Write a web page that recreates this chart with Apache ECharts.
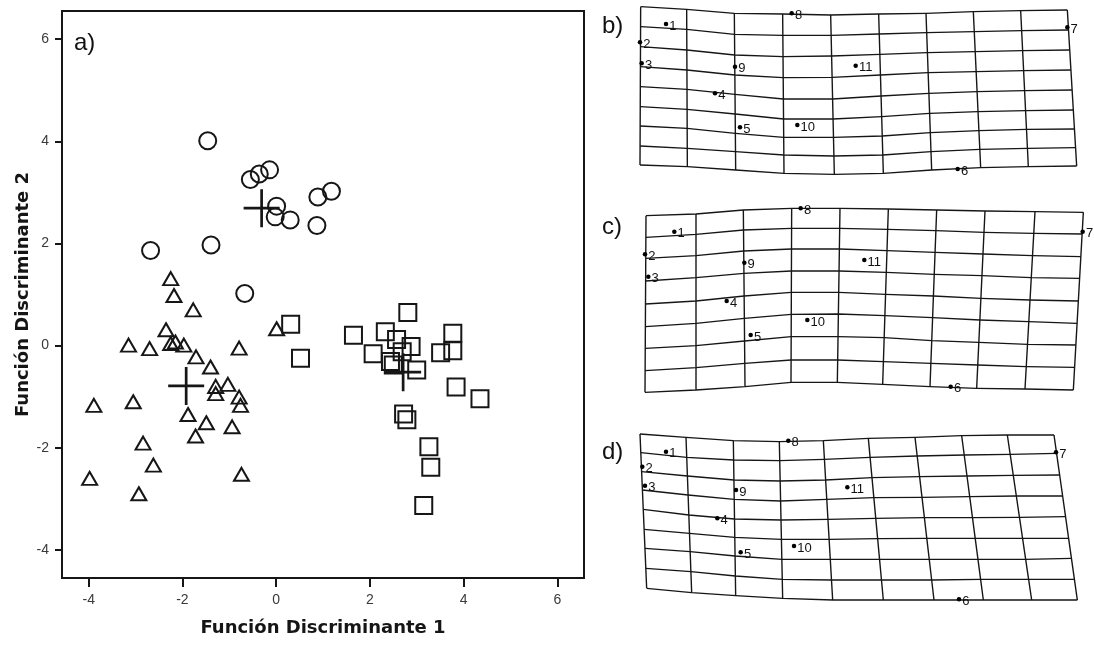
<!DOCTYPE html>
<html>
<head>
<meta charset="utf-8">
<script src="https://cdn.jsdelivr.net/npm/echarts@6/dist/echarts.min.js"></script>
<style>
html,body{margin:0;padding:0;background:#fff;}
#c{width:1094px;height:646px;}
</style>
</head>
<body>
<div id="c"></div>
<script>
// ---------- Panel a) : discriminant scores ----------
const xTicks = [-4, -2, 0, 2, 4, 6];
const yTicks = [-4, -2, 0, 2, 4, 6];
const xTitle = 'Función Discriminante 1';
const yTitle = 'Función Discriminante 2';

const circles = [
  [-1.46, 4.01], [-0.55, 3.25], [-0.36, 3.36], [-0.14, 3.44], [0.01, 2.73],
  [-0.02, 2.52], [0.30, 2.46], [0.89, 2.91], [1.18, 3.02], [0.87, 2.35],
  [-2.68, 1.86], [-1.39, 1.97], [-0.67, 1.02]
];
const triangles = [
  [-2.25, 1.31], [-2.18, 0.98], [-1.77, 0.70], [-2.35, 0.31], [-3.15, 0.01],
  [-2.70, -0.06], [-2.25, 0.04], [-2.15, 0.07], [-1.97, 0.01], [-1.71, -0.22],
  [-1.40, -0.42], [-0.79, -0.05], [0.01, 0.33], [-1.29, -0.80], [-1.03, -0.76],
  [-1.29, -0.94], [-0.79, -1.01], [-0.76, -1.17], [-3.89, -1.17], [-3.05, -1.10],
  [-1.88, -1.35], [-1.49, -1.51], [-0.94, -1.59], [-1.72, -1.77], [-2.84, -1.91],
  [-2.62, -2.34], [-3.98, -2.60], [-0.74, -2.52], [-2.93, -2.90]
];
const squares = [
  [0.31, 0.42], [0.52, -0.25], [1.65, 0.20], [2.33, 0.27], [2.81, 0.65],
  [2.57, 0.12], [2.88, -0.02], [2.07, -0.16], [2.69, -0.12], [2.44, -0.31],
  [2.50, -0.38], [3.00, -0.48], [3.77, 0.24], [3.77, -0.10], [3.51, -0.14],
  [3.84, -0.81], [4.35, -1.04], [2.72, -1.34], [2.79, -1.45], [3.26, -1.98],
  [3.30, -2.38], [3.15, -3.13]
];
const centroids = [[-0.31, 2.69], [-1.92, -0.79], [2.71, -0.52]];

// ---------- Panels b), c), d) : deformation grids (shape units) ----------
const landmarkNames = ['1','2','3','4','5','6','7','8','9','10','11'];

const bVTop = [152, 290, 433, 578, 722, 866, 1008, 1150, 1292, 1432];
const bVBot = [150, 292, 437, 582, 733, 880, 1025, 1172, 1315, 1460];
const bRows = [
  [20, 28, 40, 42, 45, 42, 40, 35, 32, 30],
  [80, 88, 103, 106, 106, 102, 98, 95, 92, 90],
  [140, 150, 165, 170, 168, 163, 158, 155, 152, 150],
  [200, 210, 225, 233, 232, 225, 218, 215, 212, 210],
  [260, 268, 283, 297, 297, 288, 280, 275, 272, 270],
  [320, 328, 342, 357, 357, 350, 340, 335, 332, 330],
  [378, 385, 400, 412, 412, 408, 398, 392, 388, 387],
  [438, 445, 455, 465, 468, 465, 455, 448, 445, 443],
  [495, 500, 510, 520, 523, 520, 510, 503, 500, 498]
];
const bLandmarks = [[228,72],[150,127],[155,190],[375,280],[450,382],[1103,507],[1432,82],[605,40],[435,200],[622,375],[797,197]];

const cVTop = [168, 318, 460, 605, 750, 895, 1040, 1185, 1335, 1480];
const cVBot = [165, 318, 465, 603, 742, 878, 1020, 1160, 1305, 1450];
const cRows = [
  [62, 57, 45, 40, 40, 42, 45, 48, 50, 52],
  [127, 118, 105, 100, 100, 103, 107, 112, 115, 117],
  [190, 182, 168, 162, 162, 167, 172, 177, 182, 185],
  [258, 248, 235, 228, 228, 232, 238, 242, 248, 250],
  [327, 318, 303, 292, 292, 298, 303, 310, 315, 318],
  [395, 385, 370, 358, 357, 362, 368, 375, 380, 385],
  [460, 452, 438, 425, 425, 428, 437, 442, 448, 450],
  [527, 518, 505, 495, 495, 500, 505, 510, 515, 517],
  [592, 585, 575, 562, 562, 568, 575, 580, 582, 585]
];
const cLandmarks = [[253,110],[165,178],[175,245],[410,318],[482,420],[1082,575],[1478,110],[632,40],[463,203],[652,375],[823,195]];

const dVTop = [150, 288, 430, 568, 700, 835, 975, 1115, 1252, 1392];
const dVBot = [170, 305, 437, 578, 728, 880, 1032, 1180, 1325, 1462];
const dRows = [
  [42, 52, 62, 65, 62, 55, 52, 47, 45, 45],
  [98, 112, 120, 122, 118, 112, 108, 105, 103, 100],
  [155, 168, 180, 183, 180, 173, 170, 168, 166, 165],
  [210, 225, 238, 243, 238, 233, 232, 230, 228, 228],
  [268, 285, 297, 300, 298, 295, 293, 293, 292, 290],
  [328, 340, 352, 358, 358, 356, 355, 355, 355, 355],
  [385, 395, 408, 418, 418, 418, 418, 418, 418, 415],
  [445, 455, 468, 478, 480, 480, 480, 478, 478, 478],
  [505, 518, 527, 535, 540, 540, 540, 540, 540, 540]
];
const dLandmarks = [[228,95],[157,140],[165,197],[382,295],[452,397],[1107,538],[1398,97],[595,62],[438,210],[612,378],[772,202]];

// ---------- build ----------
const INK = '#161616';

// node position: point on straight vertical line i at height y
function gridLines(vTop, vBot, rows) {
  const last = rows.length - 1;
  const node = (i, j) => {
    const y = rows[j][i];
    const t = (y - rows[0][i]) / (rows[last][i] - rows[0][i]);
    return [vTop[i] + t * (vBot[i] - vTop[i]), y];
  };
  const lines = [];
  for (let j = 0; j < rows.length; j++) {
    const coords = [];
    for (let i = 0; i < vTop.length; i++) coords.push(node(i, j));
    lines.push({ coords });
  }
  for (let i = 0; i < vTop.length; i++) {
    const coords = [];
    for (let j = 0; j < rows.length; j++) coords.push(node(i, j));
    lines.push({ coords });
  }
  return lines;
}

const panels = [
  { label: 'b)', v0: bVTop, v1: bVBot, rows: bRows, lm: bLandmarks, top: 0, height: 200, ymax: 600, ly: 9 },
  { label: 'c)', v0: cVTop, v1: cVBot, rows: cRows, lm: cLandmarks, top: 195, height: 215, ymax: 645, ly: 210 },
  { label: 'd)', v0: dVTop, v1: dVBot, rows: dRows, lm: dLandmarks, top: 420, height: 200, ymax: 600, ly: 435 }
];

const grids = [{ left: 62, top: 11, width: 522, height: 567, show: true, borderColor: INK, borderWidth: 2, backgroundColor: 'transparent' }];
const xAxes = [{
  type: 'value', gridIndex: 0, min: -4.57, max: 6.57,
  axisLine: { show: true, onZero: false, lineStyle: { color: INK, width: 2 } },
  axisTick: { show: true, length: 9, customValues: xTicks, lineStyle: { color: INK, width: 2 } },
  axisLabel: { customValues: xTicks, margin: 15, fontSize: 14, color: '#3a3a3a', fontFamily: 'Liberation Sans' },
  splitLine: { show: false },
  name: xTitle, nameLocation: 'middle', nameGap: 41,
  nameTextStyle: { fontSize: 18, fontWeight: 'bold', color: '#151515', fontFamily: 'DejaVu Sans' }
}];
const yAxes = [{
  type: 'value', gridIndex: 0, min: -4.55, max: 6.55,
  axisLine: { show: true, onZero: false, lineStyle: { color: INK, width: 2 } },
  axisTick: { show: true, length: 7, customValues: yTicks, lineStyle: { color: INK, width: 2 } },
  axisLabel: { customValues: yTicks, margin: 13, fontSize: 14, color: '#3a3a3a', fontFamily: 'Liberation Sans' },
  splitLine: { show: false },
  name: yTitle, nameLocation: 'middle', nameGap: 30, nameRotate: 90,
  nameTextStyle: { fontSize: 18, fontWeight: 'bold', color: '#151515', fontFamily: 'DejaVu Sans' }
}];

const hollow = { color: 'rgba(0,0,0,0)', borderColor: INK, borderWidth: 2, opacity: 1 };
const series = [
  { type: 'scatter', xAxisIndex: 0, yAxisIndex: 0, symbol: 'circle', symbolSize: 17, data: circles, itemStyle: hollow, silent: true },
  { type: 'scatter', xAxisIndex: 0, yAxisIndex: 0, symbol: 'triangle', symbolSize: [15, 13], data: triangles, itemStyle: hollow, silent: true },
  { type: 'scatter', xAxisIndex: 0, yAxisIndex: 0, symbol: 'rect', symbolSize: 17, data: squares, itemStyle: hollow, silent: true },
  { type: 'scatter', xAxisIndex: 0, yAxisIndex: 0,
    symbol: 'path://M0,18.5L40,18.5L40,21.5L0,21.5Z M18.5,0L21.5,0L21.5,40L18.5,40Z',
    symbolSize: [36, 38], symbolKeepAspect: false, data: centroids,
    itemStyle: { color: INK, borderWidth: 0, opacity: 1 }, silent: true, z: 5 }
];

const titles = [
  { text: 'a)', left: 69, top: 26, textStyle: { fontSize: 24, fontWeight: 'normal', color: '#111', fontFamily: 'Liberation Sans' } }
];

panels.forEach((p, k) => {
  const gi = k + 1;
  grids.push({ left: 590, top: p.top, width: 504, height: p.height, show: false });
  xAxes.push({ type: 'value', gridIndex: gi, min: 0, max: 1512, show: false });
  yAxes.push({ type: 'value', gridIndex: gi, min: 0, max: p.ymax, inverse: true, show: false });
  series.push({
    type: 'lines', coordinateSystem: 'cartesian2d', xAxisIndex: gi, yAxisIndex: gi,
    polyline: true, data: gridLines(p.v0, p.v1, p.rows),
    lineStyle: { color: INK, width: 1.4, opacity: 1 }, silent: true
  });
  series.push({
    type: 'scatter', xAxisIndex: gi, yAxisIndex: gi, symbol: 'circle', symbolSize: 4.5,
    data: p.lm.map((c, i) => ({ value: c, name: landmarkNames[i] })),
    itemStyle: { color: '#000', opacity: 1 }, silent: true, z: 5,
    label: { show: true, position: 'right', distance: 1, offset: [0, 2], formatter: '{b}',
      fontSize: 13, color: '#111', fontFamily: 'Liberation Sans' }
  });
  titles.push({ text: p.label, left: 597, top: p.ly,
    textStyle: { fontSize: 24, fontWeight: 'normal', color: '#111', fontFamily: 'Liberation Sans' } });
});

const chart = echarts.init(document.getElementById('c'), null, { renderer: 'canvas' });
chart.setOption({
  animation: false,
  backgroundColor: '#fff',
  title: titles,
  grid: grids,
  xAxis: xAxes,
  yAxis: yAxes,
  series: series
});
</script>
</body>
</html>
